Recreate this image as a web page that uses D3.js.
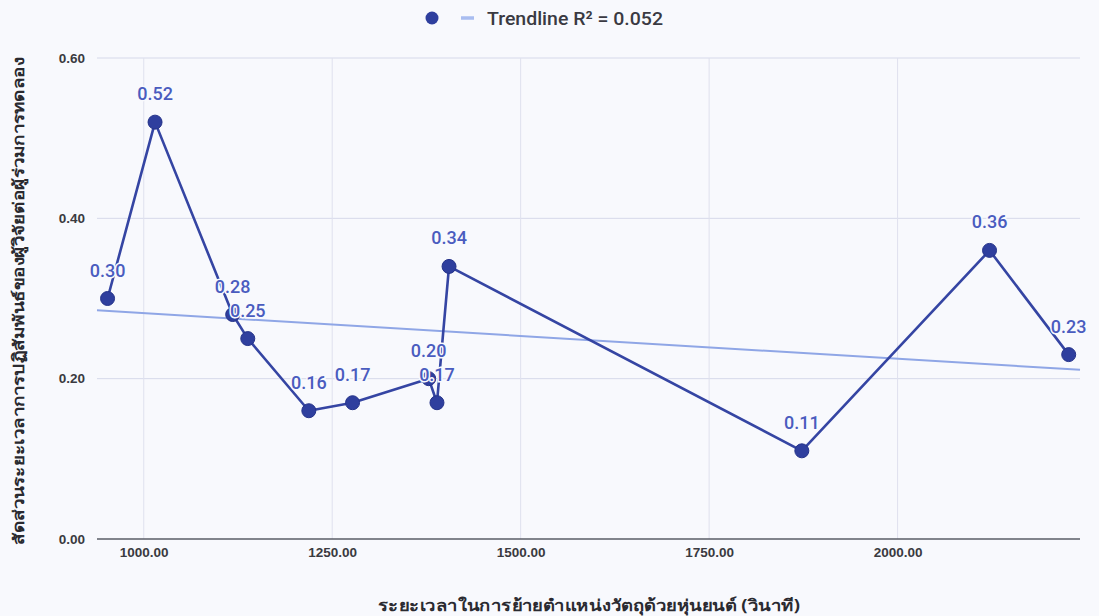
<!DOCTYPE html>
<html>
<head>
<meta charset="utf-8">
<script src="https://cdn.jsdelivr.net/npm/d3@7"></script>
<style>
  html, body { margin: 0; padding: 0; background: #f8f9fd; }
  svg { display: block; }
</style>
</head>
<body>
<svg id="chart" width="1099" height="616"></svg>
<script>
// Time to move the object with the robot (seconds)
const moveTimes = [952, 1015, 1118, 1138, 1219, 1277, 1378, 1389, 1405, 1873, 2122, 2227];
// Ratio of researcher interaction time per participant
const ratios = [0.30, 0.52, 0.28, 0.25, 0.16, 0.17, 0.20, 0.17, 0.34, 0.11, 0.36, 0.23];
const xTicks = [1000, 1250, 1500, 1750, 2000];
const yTicks = [0, 0.2, 0.4, 0.6];
const legendLabel = "Trendline R² = 0.052";
const xTitle = "ระยะเวลาในการย้ายตำแหน่งวัตถุด้วยหุ่นยนต์ (วินาที)";
const yTitle = "สัดส่วนระยะเวลาการปฏิสัมพันธ์ของผู้วิจัยต่อผู้ร่วมการทดลอง";

const W = 1099, H = 616;
const margin = { left: 97, right: 19, top: 58, bottom: 77 };
const svg = d3.select("#chart");

const x = d3.scaleLinear().domain([938, 2242]).range([margin.left, W - margin.right]);
const y = d3.scaleLinear().domain([0, 0.6]).range([H - margin.bottom, margin.top]);

const tickFont = "'Liberation Sans', Arial, sans-serif";

// gridlines
svg.append("g").selectAll("line").data(yTicks.filter(d => d > 0)).join("line")
  .attr("x1", x.range()[0]).attr("x2", x.range()[1])
  .attr("y1", d => y(d)).attr("y2", d => y(d))
  .attr("stroke", "#d6d9ea").attr("stroke-width", 1);
svg.append("g").selectAll("line").data(xTicks).join("line")
  .attr("x1", d => x(d)).attr("x2", d => x(d))
  .attr("y1", y(0.6)).attr("y2", y(0))
  .attr("stroke", "#dfe1ee").attr("stroke-width", 1);

// baseline
svg.append("line")
  .attr("x1", x.range()[0]).attr("x2", x.range()[1])
  .attr("y1", y(0)).attr("y2", y(0))
  .attr("stroke", "#5a5c66").attr("stroke-width", 1.6);

// y axis labels
const yAxis = svg.append("g").attr("transform", `translate(${margin.left - 9},0)`)
  .call(d3.axisLeft(y).tickValues(yTicks).tickFormat(d3.format(".2f")).tickSize(0));
yAxis.select(".domain").remove();
yAxis.selectAll("text").attr("font-family", tickFont).attr("font-weight", "bold")
  .attr("font-size", 13.5).attr("fill", "#3a3a40").attr("dx", 0);

// x axis labels
const xAxis = svg.append("g").attr("transform", `translate(0,${y(0) + 5})`)
  .call(d3.axisBottom(x).tickValues(xTicks).tickFormat(d3.format(".2f")).tickSize(0));
xAxis.select(".domain").remove();
xAxis.selectAll("text").attr("font-family", tickFont).attr("font-weight", "bold")
  .attr("font-size", 13.5).attr("fill", "#3a3a40");

// axis titles
svg.append("text")
  .attr("x", 589).attr("y", 611)
  .attr("text-anchor", "middle")
  .attr("font-family", "'Noto Sans', 'DejaVu Sans', sans-serif")
  .attr("font-weight", "bold").attr("font-size", 16).attr("fill", "#2a2a30")
  .attr("textLength", 422).attr("lengthAdjust", "spacingAndGlyphs")
  .text(xTitle);
svg.append("text")
  .attr("transform", `translate(24,301) rotate(-90)`)
  .attr("text-anchor", "middle")
  .attr("font-family", "'Noto Sans', 'DejaVu Sans', sans-serif")
  .attr("font-weight", "bold").attr("font-size", 15).attr("fill", "#2a2a30")
  .attr("textLength", 487).attr("lengthAdjust", "spacingAndGlyphs")
  .text(yTitle);

// least-squares trendline
const n = moveTimes.length;
const mx = d3.mean(moveTimes), my = d3.mean(ratios);
let sxy = 0, sxx = 0;
for (let i = 0; i < n; i++) {
  sxy += (moveTimes[i] - mx) * (ratios[i] - my);
  sxx += (moveTimes[i] - mx) ** 2;
}
const slope = sxy / sxx, intercept = my - slope * mx;
const [x0, x1] = x.domain();
svg.append("line")
  .attr("x1", x(x0)).attr("y1", y(intercept + slope * x0))
  .attr("x2", x(x1)).attr("y2", y(intercept + slope * x1))
  .attr("stroke", "#8fa6e6").attr("stroke-width", 2);

// series line
const pts = moveTimes.map((t, i) => ({ t, v: ratios[i] }));
svg.append("path")
  .datum(pts)
  .attr("fill", "none")
  .attr("stroke", "#3545a3").attr("stroke-width", 2.6)
  .attr("stroke-linejoin", "round")
  .attr("d", d3.line().x(d => x(d.t)).y(d => y(d.v)));

// points
svg.append("g").selectAll("circle").data(pts).join("circle")
  .attr("cx", d => x(d.t)).attr("cy", d => y(d.v)).attr("r", 7)
  .attr("fill", "#2f3f9e").attr("stroke", "#25338a").attr("stroke-width", 1);

// value labels
svg.append("g").selectAll("text").data(pts).join("text")
  .attr("x", d => x(d.t)).attr("y", d => y(d.v) - 22)
  .attr("text-anchor", "middle")
  .attr("font-family", "Roboto, 'Noto Sans', sans-serif")
  .attr("font-weight", 500)
  .attr("font-size", 18).attr("fill", "#4a5cbf")
  .attr("stroke", "#f8f9fd").attr("stroke-width", 3).attr("paint-order", "stroke")
  .text(d => d3.format(".2f")(d.v));

// legend
const lg = svg.append("g");
lg.append("circle").attr("cx", 432).attr("cy", 18).attr("r", 6.5).attr("fill", "#2f3f9e");
lg.append("line").attr("x1", 461).attr("x2", 474).attr("y1", 18).attr("y2", 18)
  .attr("stroke", "#a9bdf0").attr("stroke-width", 3.5);
lg.append("text").attr("x", 487).attr("y", 25)
  .attr("font-family", "Roboto, 'Noto Sans', sans-serif")
  .attr("font-weight", 500)
  .attr("font-size", 19).attr("fill", "#3a3a42")
  .attr("textLength", 176).attr("lengthAdjust", "spacingAndGlyphs")
  .text(legendLabel);
</script>
</body>
</html>
